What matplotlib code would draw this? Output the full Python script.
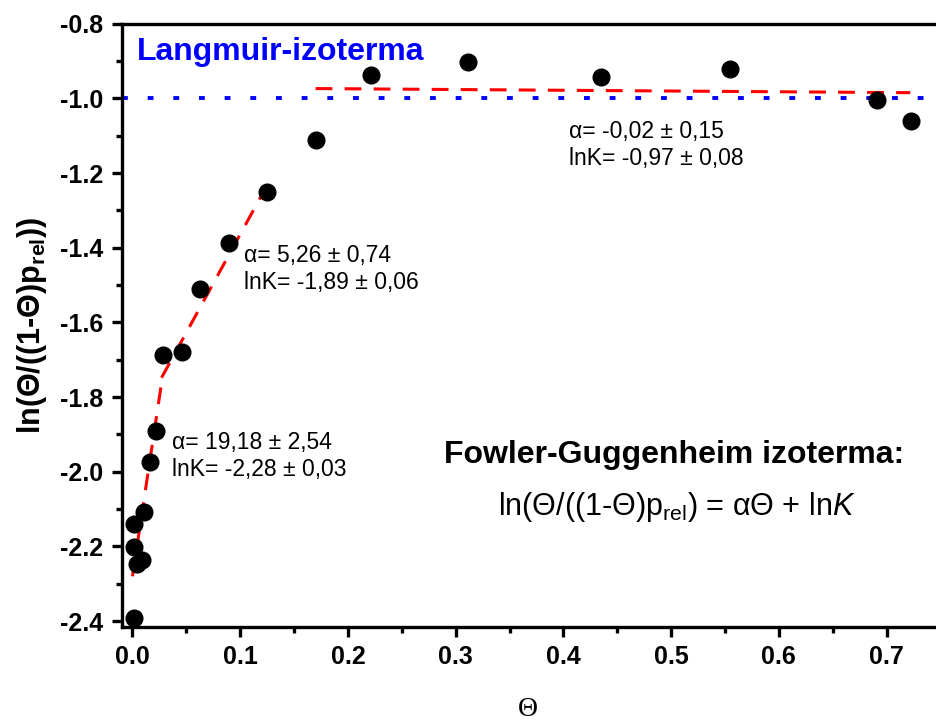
import numpy as np
import matplotlib
matplotlib.use('Agg')
import matplotlib.pyplot as plt
from matplotlib.ticker import MultipleLocator

plt.rcParams['font.family'] = ['Liberation Sans', 'DejaVu Sans']
plt.rcParams['axes.unicode_minus'] = False
plt.rcParams['mathtext.fontset'] = 'custom'
plt.rcParams['mathtext.rm'] = 'Liberation Sans'
plt.rcParams['mathtext.it'] = 'Liberation Sans:italic'
plt.rcParams['mathtext.bf'] = 'Liberation Sans:bold'

# measured points: coverage vs ln(theta/((1-theta)p_rel))
theta = [0.001, 0.0016, 0.001, 0.004, 0.009, 0.011, 0.016, 0.022, 0.0286, 0.046,
         0.063, 0.090, 0.125, 0.170, 0.221, 0.311, 0.435, 0.555, 0.691, 0.723]
ln_y = [-2.393, -2.140, -2.201, -2.246, -2.237, -2.109, -1.975, -1.890, -1.686, -1.679,
        -1.510, -1.388, -1.250, -1.111, -0.937, -0.902, -0.942, -0.921, -1.004, -1.059]

# linear fits: (alpha, lnK, theta range)
fit_alpha = [19.18, 5.26, -0.02]
fit_lnK = [-2.28, -1.89, -0.97]
fit_range = [(0.0, 0.028), (0.027, 0.125), (0.17, 0.722)]
fit_labels = ['α= 19,18 ± 2,54\nlnK= -2,28 ± 0,03',
              'α= 5,26 ± 0,74\nlnK= -1,89 ± 0,06',
              'α= -0,02 ± 0,15\nlnK= -0,97 ± 0,08']
label_pos = [(0.037, -1.958), (0.104, -1.457), (0.405, -1.124)]

langmuir = -1.0

fig = plt.figure(figsize=(9.36, 7.22), dpi=100)
ax = fig.add_axes([0.130, 0.132, 0.869, 0.835])

ax.axhline(langmuir, color='#0000ff', lw=2.8, linestyle=(0, (1.5, 5.1)), zorder=1)

for a, k, (x0, x1) in zip(fit_alpha, fit_lnK, fit_range):
    xs = np.linspace(x0, x1, 50)
    ax.plot(xs, a * xs + k, color='#ff0000', lw=2.2, linestyle=(0, (5.5, 4)), zorder=2)

ax.plot(theta, ln_y, 'o', color='black', ms=12, zorder=3)

for txt, (x, y) in zip(fit_labels, label_pos):
    ax.text(x, y, txt, fontsize=16.5, ha='left', va='center', linespacing=1.25)

ax.text(0.0037, -0.875, 'Langmuir-izoterma', color='#0000ff', fontsize=23,
        fontweight='bold', ha='left', va='center')
ax.text(0.503, -1.955, 'Fowler-Guggenheim izoterma:', fontsize=23,
        fontweight='bold', ha='center', va='center')
ax.text(0.505, -2.095, r'ln(Θ/((1-Θ)$\mathrm{p_{rel}}$) = αΘ + ln$\mathit{K}$',
        fontsize=22, ha='center', va='center')

ax.set_xlim(-0.010, 0.745)
ax.set_ylim(-2.415, -0.8)
ax.xaxis.set_major_locator(MultipleLocator(0.1))
ax.xaxis.set_minor_locator(MultipleLocator(0.05))
ax.yaxis.set_major_locator(MultipleLocator(0.2))
ax.yaxis.set_minor_locator(MultipleLocator(0.1))

for s in ['left', 'bottom', 'top']:
    ax.spines[s].set_linewidth(2.4)
ax.spines['right'].set_visible(False)
ax.tick_params(which='major', length=7, width=2.4, labelsize=18, pad=6)
ax.tick_params(which='minor', length=4, width=2.4)
for lab in ax.get_xticklabels() + ax.get_yticklabels():
    lab.set_fontweight('bold')

ax.set_xlabel('Θ', fontsize=20, family=['Liberation Serif'], labelpad=20)
ax.set_ylabel(r'ln(Θ/((1-Θ)$\mathbf{p_{rel}}$))', fontsize=22, fontweight='bold', labelpad=8)

fig.savefig('out.png', dpi=100)
